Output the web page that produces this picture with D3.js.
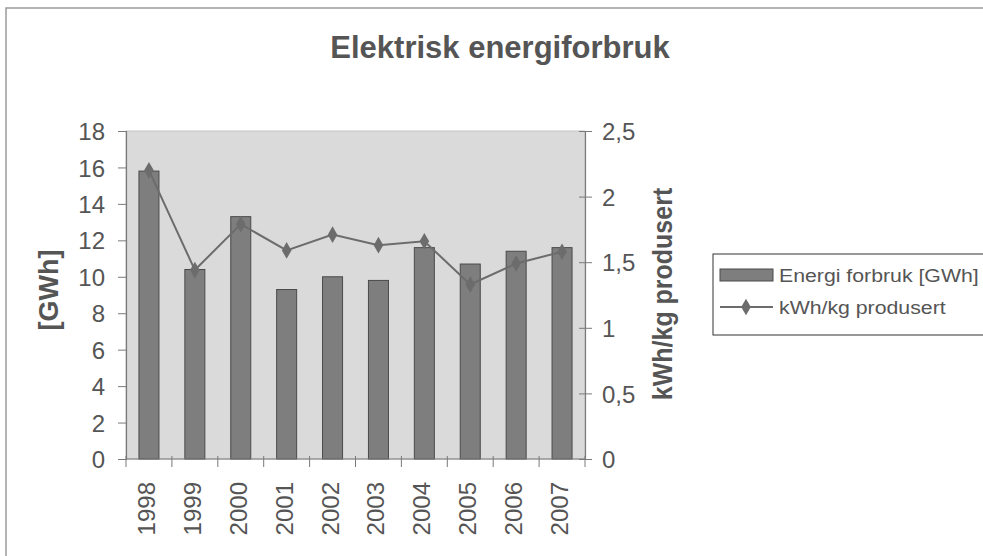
<!DOCTYPE html>
<html>
<head>
<meta charset="utf-8">
<script src="https://cdn.jsdelivr.net/npm/d3@7"></script>
<style>
	body { margin: 0; background: #fff; }
	svg { display: block; font-family: "Liberation Sans", Arial, sans-serif; }
</style>
</head>
<body>
<div id="chart"></div>
<script>
const years = ["1998", "1999", "2000", "2001", "2002", "2003", "2004", "2005", "2006", "2007"];
const energi = [15.8, 10.4, 13.3, 9.3, 10.0, 9.8, 11.6, 10.7, 11.4, 11.6];
const kwhPerKg = [2.2, 1.44, 1.79, 1.59, 1.71, 1.63, 1.66, 1.33, 1.49, 1.58];
const leftTicks = [0, 2, 4, 6, 8, 10, 12, 14, 16, 18];
const rightTicks = [0, 0.5, 1, 1.5, 2, 2.5];

const width = 983;
const height = 556;
const plot = { left: 126, right: 585, top: 131, bottom: 459 };
const textColor = "#555";
const axisColor = "#7a7a7a";
const fontFamily = "Liberation Sans, Arial, sans-serif";

const svg = d3
	.select("#chart")
	.append("svg")
	.attr("width", width)
	.attr("height", height);

// outer frame (scanned page, cut at right/bottom)
svg.append("rect")
	.attr("x", 6)
	.attr("y", 8)
	.attr("width", width + 20)
	.attr("height", height + 20)
	.attr("fill", "none")
	.attr("stroke", "#9a9a9a")
	.attr("stroke-width", 1.5);

svg.append("text")
	.attr("x", 500)
	.attr("y", 58)
	.attr("text-anchor", "middle")
	.style("font-size", "31px")
	.style("font-weight", "bold")
	.style("fill", textColor)
	.text("Elektrisk energiforbruk");

const xb = d3.scaleBand().domain(years).range([plot.left, plot.right]);
const yL = d3.scaleLinear().domain([0, 18]).range([plot.bottom, plot.top]);
const yR = d3.scaleLinear().domain([0, 2.5]).range([plot.bottom, plot.top]);
const cx = (i) => xb(years[i]) + xb.bandwidth() / 2;

// plot background
svg.append("rect")
	.attr("x", plot.left)
	.attr("y", plot.top)
	.attr("width", plot.right - plot.left)
	.attr("height", plot.bottom - plot.top)
	.attr("fill", "#dadada")
	.attr("stroke", "#c4c4c4")
	.attr("stroke-width", 1);

// bars
svg.append("g")
	.selectAll("rect")
	.data(energi)
	.join("rect")
	.attr("x", (d, i) => cx(i) - 10)
	.attr("width", 20)
	.attr("y", (d) => yL(d))
	.attr("height", (d) => yL(0) - yL(d))
	.attr("fill", "#7e7e7e")
	.attr("stroke", "#4a4a4a")
	.attr("stroke-width", 1);

// left axis
const leftAxis = svg.append("g")
	.attr("transform", `translate(${plot.left},0)`)
	.call(d3.axisLeft(yL).tickValues(leftTicks).tickSize(8).tickPadding(13));

// right axis
const rightAxis = svg.append("g")
	.attr("transform", `translate(${plot.right},0)`)
	.call(d3.axisRight(yR).tickValues(rightTicks).tickSize(0).tickPadding(17)
		.tickFormat((d) => String(d).replace(".", ",")));
rightAxis.selectAll(".tick").append("line")
	.attr("x1", -6).attr("x2", 7).attr("stroke", axisColor);

// bottom axis: ticks at category boundaries
const bottomAxis = svg.append("g")
	.attr("transform", `translate(0,${plot.bottom})`);
bottomAxis.append("line")
	.attr("x1", plot.left).attr("x2", plot.right)
	.attr("stroke", axisColor).attr("stroke-width", 1.2);
bottomAxis.selectAll("line.tk")
	.data(years.concat(["end"]))
	.join("line")
	.attr("class", "tk")
	.attr("x1", (d, i) => (i < years.length ? xb(d) : plot.right))
	.attr("x2", (d, i) => (i < years.length ? xb(d) : plot.right))
	.attr("y1", -3)
	.attr("y2", 8)
	.attr("stroke", axisColor);
bottomAxis.selectAll("text")
	.data(years)
	.join("text")
	.attr("transform", (d, i) => `translate(${cx(i) + 6},23) rotate(-90)`)
	.attr("text-anchor", "end")
	.style("font-size", "24px")
	.style("fill", textColor)
	.text((d) => d);

[leftAxis, rightAxis].forEach((ax) => {
	ax.select(".domain").attr("stroke", axisColor).attr("stroke-width", 1.2);
	ax.selectAll(".tick line").attr("stroke", axisColor);
	ax.selectAll("text")
		.attr("dy", "0.36em")
		.style("font-size", "24px")
		.style("fill", textColor)
		.style("font-family", fontFamily);
});

// line series
const line = d3.line()
	.x((d, i) => cx(i))
	.y((d) => yR(d));

svg.append("path")
	.datum(kwhPerKg)
	.attr("d", line)
	.attr("fill", "none")
	.attr("stroke", "#6c6c6c")
	.attr("stroke-width", 2);

const diamond = d3.symbol().type(d3.symbolDiamond).size(80);
svg.append("g")
	.selectAll("path")
	.data(kwhPerKg)
	.join("path")
	.attr("d", diamond)
	.attr("transform", (d, i) => `translate(${cx(i)},${yR(d)})`)
	.attr("fill", "#6c6c6c");

// axis titles
svg.append("text")
	.attr("transform", "translate(58,290) rotate(-90)")
	.attr("text-anchor", "middle")
	.style("font-size", "27px")
	.style("font-weight", "bold")
	.style("fill", textColor)
	.text("[GWh]");

svg.append("text")
	.attr("transform", "translate(672,294) rotate(-90) scale(1,1.12)")
	.attr("text-anchor", "middle")
	.style("font-size", "25px")
	.style("font-weight", "bold")
	.style("fill", textColor)
	.text("kWh/kg produsert");

// legend
const legend = svg.append("g").attr("transform", "translate(713,254)");
legend.append("rect")
	.attr("width", 290)
	.attr("height", 81)
	.attr("fill", "#fff")
	.attr("stroke", "#333")
	.attr("stroke-width", 1);
legend.append("rect")
	.attr("x", 7).attr("y", 15)
	.attr("width", 53).attr("height", 12)
	.attr("fill", "#7e7e7e")
	.attr("stroke", "#4a4a4a");
legend.append("text")
	.attr("transform", "translate(66,28) scale(1.12,1)")
	.style("font-size", "19px")
	.style("fill", textColor)
	.text("Energi forbruk [GWh]");
legend.append("line")
	.attr("x1", 7).attr("x2", 60)
	.attr("y1", 53).attr("y2", 53)
	.attr("stroke", "#6c6c6c").attr("stroke-width", 2);
legend.append("path")
	.attr("d", diamond)
	.attr("transform", "translate(33,53)")
	.attr("fill", "#6c6c6c");
legend.append("text")
	.attr("transform", "translate(66,60) scale(1.12,1)")
	.style("font-size", "19px")
	.style("fill", textColor)
	.text("kWh/kg produsert");
</script>
</body>
</html>
